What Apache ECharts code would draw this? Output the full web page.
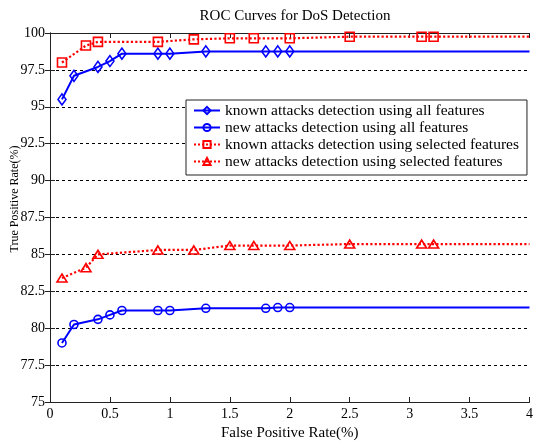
<!DOCTYPE html>
<html>
<head>
<meta charset="utf-8">
<script src="https://cdn.jsdelivr.net/npm/echarts@6/dist/echarts.min.js"></script>
<style>
    html, body { margin: 0; padding: 0; background: #fff; }
    #chart { width: 536px; height: 446px; }
</style>
</head>
<body>
<div id="chart"></div>
<script>
    // 数据: x = 误报率, y = 检测率
    var xFull = [0.1, 0.2, 0.4, 0.5, 0.6, 0.9, 1.0, 1.3, 1.8, 1.9, 2.0, 4];
    var xSel = [0.1, 0.3, 0.4, 0.9, 1.2, 1.5, 1.7, 2.0, 2.5, 3.1, 3.2, 4];
    var knownAll = [95.5, 97.1, 97.7, 98.1, 98.6, 98.6, 98.6, 98.75, 98.75, 98.75, 98.75, 98.75];
    var newAll = [79.0, 80.25, 80.6, 80.9, 81.2, 81.2, 81.2, 81.35, 81.35, 81.4, 81.4, 81.4];
    var knownSel = [98.0, 99.15, 99.4, 99.4, 99.57, 99.64, 99.64, 99.64, 99.75, 99.75, 99.75, 99.75];
    var newSel = [83.4, 84.1, 85.0, 85.3, 85.3, 85.6, 85.6, 85.6, 85.7, 85.7, 85.7, 85.7];
    var names = [
        'known attacks detection using all features',
        'new attacks detection using all features',
        'known attacks detection using selected features',
        'new attacks detection using selected features'
    ];

    var FONT = '"Liberation Serif", "DejaVu Serif", serif';

    function pairs(xs, ys) {
        return xs.map(function (x, i) {
            var item = {value: [x, ys[i]]};
            if (i === xs.length - 1) item.symbol = 'none'; // 线延伸到右边界
            return item;
        });
    }

    function makeSeries(name, xs, ys, color, symbol, size, dashed) {
        return {
            name: name,
            type: 'line',
            data: pairs(xs, ys),
            symbol: symbol,
            symbolSize: size,
            showAllSymbol: true,
            xAxisIndex: 0,
            yAxisIndex: 0,
            lineStyle: {color: color, width: dashed ? 2.2 : 2, type: dashed ? 'dotted' : 'solid'},
            itemStyle: {color: 'rgba(255,255,255,0)', borderColor: color, borderWidth: 1.6},
            emphasis: {disabled: true},
            z: 3
        };
    }

    var myChart = echarts.init(document.getElementById('chart'));
    var axisCommon = {
        axisLine: {show: true, lineStyle: {color: '#222', width: 1}},
        axisTick: {show: true, inside: true, length: 5, lineStyle: {color: '#222'}},
        splitLine: {show: false}
    };
    var option = {
        animation: false,
        backgroundColor: '#fff',
        title: {
            text: 'ROC Curves for DoS Detection',
            left: 290, top: 4, textAlign: 'center',
            textStyle: {fontFamily: FONT, fontSize: 15, fontWeight: 'normal', color: '#000'}
        },
        grid: {left: 50, right: 5, top: 33, bottom: 41},
        legend: {
            orient: 'vertical',
            left: 186, top: 100,
            data: names,
            itemWidth: 26, itemHeight: 9, itemGap: 0,
            padding: [2, 8, 5, 7],
            borderColor: '#222', borderWidth: 1,
            backgroundColor: '#fff',
            textStyle: {fontFamily: FONT, fontSize: 15.5, lineHeight: 17, color: '#000'},
            selectedMode: false
        },
        graphic: [{
            type: 'text',
            x: 15, y: 199,
            rotation: Math.PI / 2,
            style: {
                text: 'True Positive Rate(%)',
                fontFamily: FONT, fontSize: 12, fill: '#000',
                align: 'center', verticalAlign: 'middle'
            }
        }],
        xAxis: [
            Object.assign({
                type: 'value', min: 0, max: 4, interval: 0.5,
                name: 'False Positive Rate(%)', nameLocation: 'middle', nameGap: 24,
                nameTextStyle: {fontFamily: FONT, fontSize: 15, color: '#000'},
                axisLabel: {fontFamily: FONT, fontSize: 14, color: '#000', margin: 5}
            }, axisCommon),
            Object.assign({
                type: 'value', min: 0, max: 4, interval: 0.5, position: 'top',
                axisLabel: {show: false}
            }, axisCommon)
        ],
        yAxis: [
            Object.assign({
                type: 'value', min: 75, max: 100, interval: 2.5,
                axisLabel: {fontFamily: FONT, fontSize: 14, color: '#000', margin: 5}
            }, axisCommon, {
                splitLine: {show: true, lineStyle: {color: '#000', type: [3, 3], width: 1}}
            }),
            Object.assign({
                type: 'value', min: 75, max: 100, interval: 2.5, position: 'right',
                axisLabel: {show: false}
            }, axisCommon)
        ],
        series: [
            makeSeries(names[0], xFull, knownAll, '#0000ff', 'diamond', [8, 11], false),
            makeSeries(names[1], xFull, newAll, '#0000ff', 'circle', 8, false),
            makeSeries(names[2], xSel, knownSel, '#ff0000', 'rect', 9, true),
            makeSeries(names[3], xSel, newSel, '#ff0000', 'triangle', [10, 8], true)
        ]
    };
    myChart.setOption(option);
</script>
</body>
</html>
